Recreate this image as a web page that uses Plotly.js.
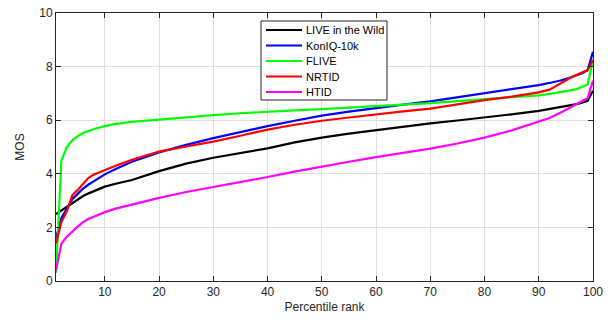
<!DOCTYPE html>
<html>
<head>
<meta charset="utf-8">
<script src="https://cdn.plot.ly/plotly-3.0.1.min.js"></script>
<style>html,body{margin:0;padding:0;background:#fff;}#chart{width:608px;height:322px;}</style>
</head>
<body>
<div id="chart"></div>
<script>
const percentile = [1,2,3,4,5,6,7,8,10,12,15,20,25,30,35,40,45,50,55,60,65,70,75,80,85,90,92,94,96,97,98,99,100];
const liveWild = [2.5,2.63,2.78,2.92,3.05,3.17,3.27,3.35,3.52,3.63,3.77,4.1,4.38,4.6,4.78,4.95,5.17,5.35,5.5,5.63,5.75,5.88,5.99,6.1,6.22,6.35,6.42,6.48,6.55,6.6,6.65,6.72,7.1];
const koniq = [1.6,2.35,2.7,3.05,3.25,3.45,3.6,3.72,3.98,4.18,4.45,4.8,5.08,5.33,5.56,5.78,5.98,6.17,6.32,6.46,6.58,6.7,6.85,7.0,7.15,7.31,7.39,7.48,7.6,7.67,7.75,7.86,8.55];
const flive = [0.3,4.5,5.0,5.25,5.4,5.52,5.6,5.67,5.78,5.86,5.94,6.03,6.12,6.19,6.26,6.32,6.37,6.41,6.46,6.51,6.58,6.64,6.71,6.78,6.85,6.93,6.98,7.04,7.12,7.16,7.25,7.33,8.25];
const nrtid = [1.4,2.2,2.6,3.2,3.4,3.62,3.85,3.97,4.15,4.3,4.52,4.83,5.02,5.2,5.42,5.65,5.83,5.98,6.1,6.22,6.33,6.43,6.6,6.75,6.88,7.04,7.14,7.38,7.6,7.7,7.78,7.87,8.25];
const htid = [0.4,1.4,1.65,1.85,2.03,2.2,2.32,2.4,2.57,2.7,2.86,3.1,3.32,3.5,3.68,3.88,4.08,4.27,4.45,4.62,4.78,4.94,5.13,5.35,5.62,5.93,6.08,6.28,6.5,6.6,6.7,6.82,7.48];
const seriesNames = ['LIVE in the Wild','KonIQ-10k','FLIVE','NRTID','HTID'];
const seriesColors = ['#000000','#0000ff','#00ff00','#ff0000','#ff00ff'];
const xTicks = [10,20,30,40,50,60,70,80,90,100];
const yTicks = [0,2,4,6,8,10];

const allY = [liveWild, koniq, flive, nrtid, htid];
const traces = allY.map((ys, i) => ({
  x: percentile, y: ys, type: 'scatter', mode: 'lines', name: seriesNames[i],
  line: {color: seriesColors[i], width: 2.2}, showlegend: false
}));

const W = 608, H = 322, M = {l: 56, r: 15, t: 13, b: 41};
const pw = W - M.l - M.r, ph = H - M.t - M.b;
const px2x = px => (px - M.l) / pw;
const py2y = py => 1 - (py - M.t) / ph;

// custom legend box (MATLAB style, compact rows)
const legBox = {x0: 261, x1: 387, y0: 21, y1: 100};
const rowY = [30, 45.5, 61, 76.5, 92];
const shapes = [{
  type: 'rect', xref: 'paper', yref: 'paper',
  x0: px2x(legBox.x0), x1: px2x(legBox.x1), y0: py2y(legBox.y1), y1: py2y(legBox.y0),
  fillcolor: '#ffffff', line: {color: '#262626', width: 1}, layer: 'above'
}];
const annotations = [];
seriesNames.forEach((nm, i) => {
  shapes.push({
    type: 'line', xref: 'paper', yref: 'paper',
    x0: px2x(266), x1: px2x(302), y0: py2y(rowY[i]), y1: py2y(rowY[i]),
    line: {color: seriesColors[i], width: 2.2}, layer: 'above'
  });
  annotations.push({
    xref: 'paper', yref: 'paper', x: px2x(304), y: py2y(rowY[i]),
    xanchor: 'left', yanchor: 'middle', showarrow: false, text: nm,
    font: {family: 'Liberation Sans, Arial, sans-serif', size: 11, color: '#000000'}
  });
});

const axisCommon = {
  showline: true, linecolor: '#262626', linewidth: 1, mirror: 'ticks',
  ticks: 'inside', ticklen: 5, tickcolor: '#262626', tickwidth: 1,
  showgrid: true, gridcolor: '#dedede', gridwidth: 1, zeroline: false,
  tickfont: {family: 'Liberation Sans, Arial, sans-serif', size: 12, color: '#262626'}
};

const layout = {
  width: W, height: H,
  margin: M,
  paper_bgcolor: '#ffffff', plot_bgcolor: '#ffffff',
  showlegend: false,
  xaxis: Object.assign({}, axisCommon, {
    range: [1, 100], tickvals: xTicks, ticktext: xTicks.map(String),
    title: {text: 'Percentile rank', font: {family: 'Liberation Sans, Arial, sans-serif', size: 12, color: '#262626'}, standoff: 4}
  }),
  yaxis: Object.assign({}, axisCommon, {
    range: [0, 10], tickvals: yTicks, ticktext: yTicks.map(String),
    title: {text: 'MOS', font: {family: 'Liberation Sans, Arial, sans-serif', size: 12, color: '#262626'}, standoff: 12}
  }),
  shapes: shapes,
  annotations: annotations
};

Plotly.newPlot('chart', traces, layout, {displayModeBar: false, staticPlot: true});
</script>
</body>
</html>
